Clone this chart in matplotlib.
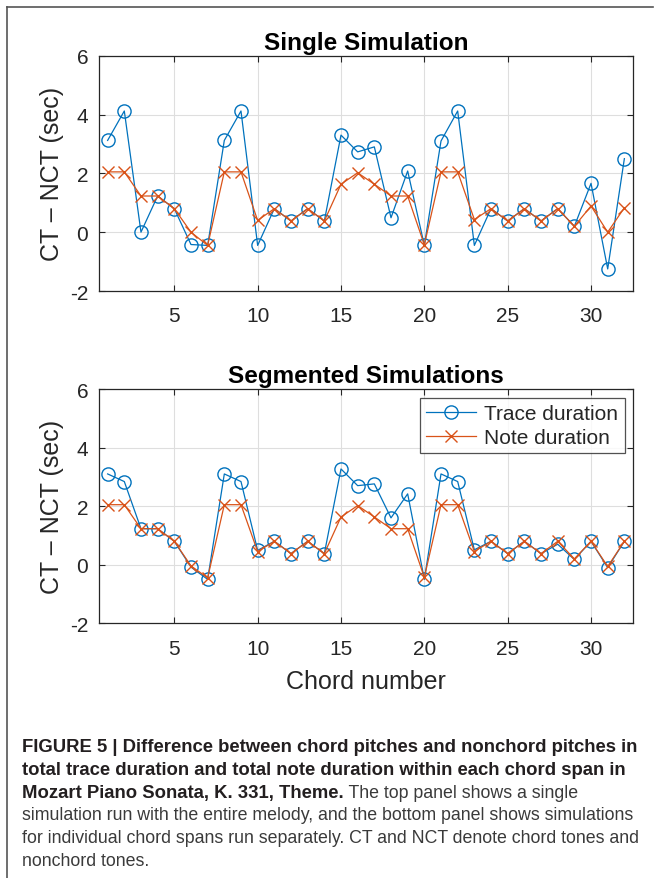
import numpy as np
import matplotlib
matplotlib.use("Agg")
import matplotlib.pyplot as plt

# chord index 1..32
chords = np.arange(1, 33)

# Single simulation (top panel)
trace_single = [3.12, 4.12, 0.0, 1.23, 0.8, -0.42, -0.45, 3.12, 4.12, -0.45,
                0.8, 0.38, 0.8, 0.38, 3.3, 2.73, 2.9, 0.49, 2.08, -0.45,
                3.1, 4.12, -0.45, 0.8, 0.38, 0.8, 0.38, 0.8, 0.2, 1.66,
                -1.25, 2.5]
note_single = [2.05, 2.05, 1.23, 1.23, 0.8, 0.0, -0.45, 2.05, 2.05, 0.4,
               0.8, 0.38, 0.8, 0.38, 1.63, 2.02, 1.63, 1.23, 1.23, -0.43,
               2.05, 2.05, 0.43, 0.8, 0.38, 0.8, 0.38, 0.8, 0.2, 0.89,
               0.0, 0.83]

# Segmented simulations (bottom panel)
trace_seg = [3.1, 2.84, 1.23, 1.23, 0.8, -0.08, -0.5, 3.1, 2.84, 0.49,
             0.8, 0.38, 0.8, 0.38, 3.27, 2.7, 2.76, 1.6, 2.42, -0.5,
             3.1, 2.84, 0.51, 0.8, 0.38, 0.8, 0.38, 0.7, 0.18, 0.8,
             -0.1, 0.8]
note_seg = [2.05, 2.05, 1.23, 1.23, 0.8, -0.04, -0.45, 2.05, 2.05, 0.45,
            0.8, 0.38, 0.8, 0.38, 1.63, 2.02, 1.63, 1.23, 1.23, -0.43,
            2.05, 2.05, 0.45, 0.8, 0.38, 0.8, 0.38, 0.8, 0.2, 0.8,
            -0.06, 0.8]

titles = ["Single Simulation", "Segmented Simulations"]
xticks = [5, 10, 15, 20, 25, 30]
yticks = [-2, 0, 2, 4, 6]

BLUE = "#0072BD"
ORANGE = "#D95319"
AXC = "#262626"

plt.rcParams["font.family"] = ["Liberation Sans", "DejaVu Sans"]
plt.rcParams["axes.unicode_minus"] = False

W, H = 654, 879
fig = plt.figure(figsize=(W / 100, H / 100), dpi=100)


def px_axes(left, top, right, bottom):
    return fig.add_axes([left / W, 1 - bottom / H, (right - left) / W, (bottom - top) / H])


def style(ax, title):
    ax.set_xlim(0.5, 32.5)
    ax.set_ylim(-2, 6)
    ax.set_xticks(xticks)
    ax.set_yticks(yticks)
    ax.grid(True, color="#dedede", linewidth=0.8)
    ax.set_axisbelow(True)
    ax.tick_params(direction="in", top=True, right=True, length=4,
                   width=0.8, colors=AXC, labelsize=15)
    ax.tick_params(axis="x", pad=11)
    ax.tick_params(axis="y", pad=8)
    for s in ax.spines.values():
        s.set_color(AXC)
        s.set_linewidth(0.9)
    ax.set_title(title, fontsize=17.5, fontweight="bold", pad=5)
    ax.set_ylabel("CT – NCT (sec)", fontsize=18, color=AXC, labelpad=4)


panels = [
    (px_axes(99.3, 56.7, 632.7, 292), trace_single, note_single),
    (px_axes(99.3, 390, 632.7, 624.3), trace_seg, note_seg),
]

for i, (ax, tr, nt) in enumerate(panels):
    ax.plot(chords, tr, color=BLUE, lw=0.9, marker="o", ms=9.5,
            mfc="none", mew=1.0, label="Trace duration")
    ax.plot(chords, nt, color=ORANGE, lw=0.9, marker="x", ms=8,
            mew=1.0, label="Note duration")
    style(ax, titles[i])

ax2 = panels[1][0]
ax2.set_xlabel("Chord number", fontsize=18, color=AXC, labelpad=8)
leg = ax2.legend(loc="upper right", bbox_to_anchor=(0.985, 0.963),
                 borderaxespad=0, fontsize=15, frameon=True, fancybox=False,
                 handlelength=2.4, labelspacing=0.25, borderpad=0.3,
                 handletextpad=0.4, numpoints=1)
leg.get_frame().set_edgecolor(AXC)
leg.get_frame().set_linewidth(0.9)
for t in leg.get_texts():
    t.set_color(AXC)

# page border (top and left lines)
fig.add_artist(plt.Line2D([7 / W, 653 / W], [1 - 8 / H, 1 - 8 / H], color="#555555", lw=1.2))
fig.add_artist(plt.Line2D([7 / W, 7 / W], [1 - 8 / H, 0], color="#555555", lw=1.2))

# caption
cap_bold = [
    "FIGURE 5 | Difference between chord pitches and nonchord pitches in",
    "total trace duration and total note duration within each chord span in",
    "Mozart Piano Sonata, K. 331, Theme.",
]
cap_rest = [
    " The top panel shows a single",
    "simulation run with the entire melody, and the bottom panel shows simulations",
    "for individual chord spans run separately. CT and NCT denote chord tones and",
    "nonchord tones.",
]
cap_x = 22
cap_y0 = 752
cap_dy = 22.8
bold_fs = 13.35
norm_fs = 12.8

for k, line in enumerate(cap_bold):
    t = fig.text(cap_x / W, 1 - (cap_y0 + k * cap_dy) / H, line, fontsize=bold_fs,
                 fontweight="bold", color="#231f20", va="baseline")
fig.canvas.draw()
bb = t.get_window_extent()
fig.text(bb.x1 / W, 1 - (cap_y0 + 2 * cap_dy) / H, cap_rest[0], fontsize=norm_fs,
         color="#3a3a3a", va="baseline")
for k, line in enumerate(cap_rest[1:]):
    fig.text(cap_x / W, 1 - (cap_y0 + (3 + k) * cap_dy) / H, line, fontsize=norm_fs,
             color="#3a3a3a", va="baseline")

fig.savefig("out.png", dpi=100)
